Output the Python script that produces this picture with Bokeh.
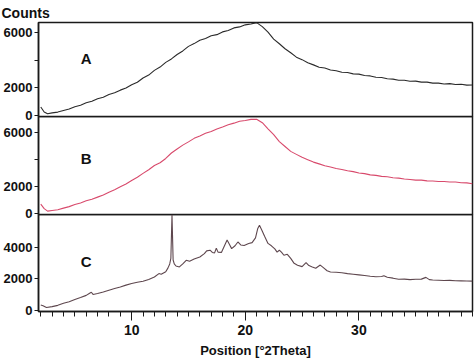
from bokeh.plotting import figure
from bokeh.layouts import column
from bokeh.models import Range1d, FixedTicker, Label, Title
from bokeh.embed import file_html
from bokeh.resources import INLINE

# ---------------- data ----------------
two_theta_ab = [2.0, 2.3, 2.6, 3.0, 3.5, 4.0, 4.5, 5.0, 5.5, 6.0, 6.5, 7.0, 7.5, 8.0, 8.5,
                9.0, 9.5, 10.0, 10.5, 11.0, 11.5, 12.0, 12.5, 13.0, 13.5, 14.0, 14.5, 15.0,
                15.5, 16.0, 16.5, 17.0, 17.5, 18.0, 18.5, 19.0, 19.5, 20.0, 20.5, 21.0, 21.5,
                22.0, 22.5, 23.0, 23.5, 24.0, 24.5, 25.0, 25.5, 26.0, 26.5, 27.0, 27.5, 28.0,
                28.5, 29.0, 29.5, 30.0, 30.5, 31.0, 31.5, 32.0, 32.5, 33.0, 33.5, 34.0, 34.5,
                35.0, 35.5, 36.0, 36.5, 37.0, 37.5, 38.0, 38.5, 39.0, 39.5, 40.0]

counts_a = [620, 260, 130, 190, 250, 370, 480, 640, 750, 920, 1040, 1220, 1330, 1520, 1650,
            1840, 1990, 2230, 2410, 2720, 2930, 3270, 3510, 3850, 4100, 4420, 4680, 5010,
            5210, 5450, 5580, 5780, 5860, 6060, 6160, 6350, 6420, 6570, 6630, 6730, 6440,
            6040, 5540, 5200, 4840, 4550, 4230, 4050, 3830, 3670, 3500, 3440, 3300, 3250,
            3140, 3120, 3020, 3000, 2900, 2870, 2770, 2750, 2660, 2640, 2560, 2560, 2480,
            2490, 2420, 2420, 2350, 2350, 2290, 2310, 2250, 2270, 2200, 2210]

counts_b = [720, 390, 210, 260, 310, 430, 540, 690, 810, 970, 1090, 1240, 1390, 1600, 1780,
            2000, 2210, 2470, 2710, 2990, 3260, 3570, 3770, 4090, 4490, 4790, 5070, 5310,
            5570, 5750, 5940, 6080, 6260, 6410, 6570, 6690, 6830, 6890, 6970, 6980, 6720,
            6270, 5840, 5330, 4970, 4610, 4390, 4170, 4000, 3820, 3690, 3550, 3460, 3350,
            3280, 3180, 3120, 3020, 2970, 2880, 2840, 2770, 2740, 2670, 2640, 2570, 2540,
            2490, 2490, 2440, 2430, 2390, 2390, 2350, 2350, 2300, 2290, 2230]

two_theta_c = [2.0, 2.2, 2.5, 3.0, 3.5, 4.0, 4.5, 5.0, 5.5, 6.0,
               6.3, 6.45, 6.6, 7.0, 7.5, 8.0, 8.5, 9.0, 9.5, 10.0,
               10.5, 11.0, 11.5, 12.0, 12.4, 12.6, 13.0, 13.2, 13.35, 13.45,
               13.55, 13.65, 13.75, 13.9, 14.2, 14.5, 14.8, 15.1, 15.5, 16.0,
               16.4, 16.6, 16.9, 17.1, 17.3, 17.45, 17.6, 17.9, 18.2, 18.4,
               18.6, 18.8, 19.1, 19.35, 19.6, 19.9, 20.3, 20.6, 20.9, 21.1,
               21.25, 21.45, 21.7, 22.0, 22.3, 22.6, 22.8, 23.0, 23.2, 23.4,
               23.7, 24.0, 24.3, 24.6, 25.0, 25.35, 25.6, 25.9, 26.2, 26.6,
               26.9, 27.2, 27.5, 28.0, 28.5, 29.0, 29.5, 30.0, 30.5, 31.0,
               31.5, 32.0, 32.2, 32.5, 33.0, 33.5, 34.0, 34.5, 35.0, 35.5,
               35.9, 36.2, 36.5, 37.0, 37.5, 38.0, 38.5, 39.0, 39.5, 40.0]

counts_c = [350, 300, 190, 250, 330, 460, 560, 700, 820, 960,
            1100, 1160, 1020, 1080, 1180, 1290, 1390, 1490, 1610, 1710,
            1790, 1850, 1970, 2120, 2340, 2300, 2460, 2700, 2950, 3300,
            6060, 3200, 2950, 2820, 2760, 2950, 3180, 3120, 3260, 3390,
            3600, 3780, 3820, 3680, 3650, 3950, 3700, 3680, 4150, 4460,
            4200, 3920, 4100, 4340, 4150, 4120, 4240, 4300, 4600, 5200,
            5400, 5100, 4700, 4250, 4100, 3900, 3700, 3820, 3680, 3500,
            3560, 3300, 2990, 2870, 2780, 3040, 2850, 2760, 2680, 2880,
            2700, 2520, 2440, 2420, 2390, 2340, 2300, 2260, 2220, 2170,
            2140, 2160, 2200, 2110, 2050, 1980, 1990, 1960, 1980, 1990,
            2100, 1960, 1930, 1920, 1900, 1910, 1890, 1880, 1870, 1860]

panel_names = ["A", "B", "C"]
x_major_ticks = [10, 20, 30]
y_ticks_ab = [0, 2000, 4000, 6000]
y_ticks_c = [0, 2000, 4000]

# ---------------- styling / layout ----------------
FONT = "'Liberation Sans', Arial, sans-serif"
W = 474
LEFT = 34
OVER = 8          # spare room under a panel so its "0" label is not clipped
xr = Range1d(1.8, 40.0)


def make_panel(height, yr, yticks, hidden_labels, bottom, top, show_x, margin_top):
    p = figure(width=W, height=height, x_range=xr, y_range=Range1d(*yr),
               output_backend="svg", toolbar_location=None,
               min_border_left=LEFT, min_border_right=2, min_border_top=top,
               min_border_bottom=bottom, margin=(margin_top, 0, 0, 0))
    p.grid.visible = False
    p.outline_line_color = "#1a1a1a"
    p.outline_line_width = 1.5
    p.background_fill_alpha = 0
    p.border_fill_alpha = 0
    ya = p.yaxis[0]
    ya.ticker = FixedTicker(ticks=yticks)
    ya.major_label_overrides = {t: "" for t in hidden_labels}
    ya.minor_tick_line_color = None
    ya.major_tick_in = 0
    ya.major_tick_out = 4
    ya.major_label_standoff = 2
    ya.axis_line_color = "#1a1a1a"
    ya.axis_line_width = 1.5
    ya.major_tick_line_color = "#1a1a1a"
    ya.major_label_text_font = FONT
    ya.major_label_text_font_style = "bold"
    ya.major_label_text_font_size = "13px"
    ya.major_label_text_color = "#111111"
    xa = p.xaxis[0]
    if show_x:
        xa.ticker = FixedTicker(ticks=x_major_ticks, minor_ticks=list(range(2, 41)))
        xa.major_tick_in = 0
        xa.major_tick_out = 9
        xa.minor_tick_in = 0
        xa.minor_tick_out = 5
        xa.axis_line_color = "#1a1a1a"
        xa.axis_line_width = 1.5
        xa.major_tick_line_color = "#1a1a1a"
        xa.minor_tick_line_color = "#1a1a1a"
        xa.major_label_standoff = 4
        xa.major_label_text_font = FONT
        xa.major_label_text_font_style = "bold"
        xa.major_label_text_font_size = "14px"
        xa.major_label_text_color = "#111111"
        xa.axis_label = "Position [°2Theta]"
        xa.axis_label_standoff = 5
        xa.axis_label_text_font = FONT
        xa.axis_label_text_font_style = "bold"
        xa.axis_label_text_font_size = "13px"
        xa.axis_label_text_color = "#111111"
    else:
        xa.visible = False
    return p


pa = make_panel(116 + OVER, (-70, 6740), y_ticks_ab, [4000], OVER, 20, False, 0)
pa.add_layout(Title(text="Counts", align="left", offset=-LEFT - 3, standoff=4,
                    text_font=FONT, text_font_style="bold", text_font_size="14px",
                    text_color="#111111"), "above")
pb = make_panel(98 + OVER, (-40, 7180), y_ticks_ab, [4000], OVER, 0, False, -OVER)
pc = make_panel(146, (-60, 6080), y_ticks_c, [], 49, 0, True, -OVER)

pa.line(two_theta_ab, counts_a, line_color="#2a2a2a", line_width=1.1)
pb.line(two_theta_ab, counts_b, line_color="#d84a6c", line_width=1.1)
pc.line(two_theta_c, counts_c, line_color="#5e474e", line_width=1.1)

label_y = [4150, 4050, 3080]
for p, name, ly in zip([pa, pb, pc], panel_names, label_y):
    p.add_layout(Label(x=6.0, y=ly, text=name, text_align="center", text_baseline="middle",
                       text_font=FONT, text_font_style="bold", text_font_size="15px",
                       text_color="#111111"))

layout = column(pa, pb, pc, spacing=0)
open("out.html", "w").write(file_html(layout, INLINE))
